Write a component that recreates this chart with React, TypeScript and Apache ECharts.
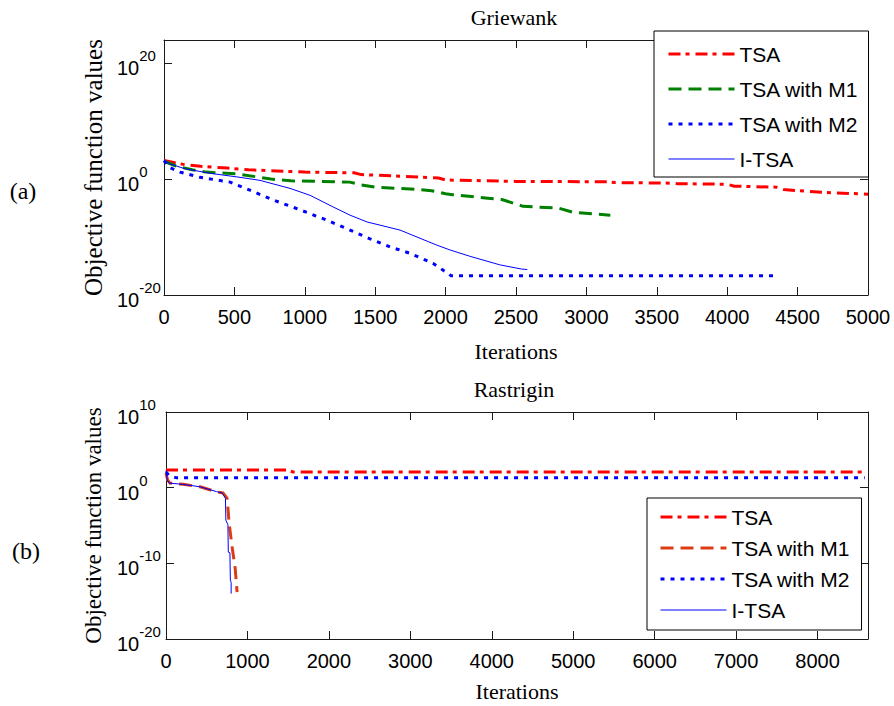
import React, { useEffect, useRef } from "react";
import * as echarts from "echarts";

// ---------- data ----------
const legendNames = ["TSA", "TSA with M1", "TSA with M2", "I-TSA"];

// Griewank: [iteration, objective value]
const griewankTSA: [number, number][] = [
  [0, 1.6e3], [60, 8e2], [150, 3e2], [260, 1.6e2], [450, 8e1], [600, 4e1], [800, 2.5e1],
  [1000, 1.6e1], [1350, 1.2e1], [1400, 6], [1700, 3], [1950, 1.5], [2000, 7e-1],
  [2500, 4e-1], [3150, 3.5e-1], [3200, 2.5e-1], [3600, 2e-1], [3650, 1.6e-1], [4000, 1.3e-1],
  [4050, 6e-2], [4350, 4e-2], [4400, 1.6e-2], [4500, 1e-2], [4700, 5e-3], [5000, 2.5e-3],
];
const griewankM1: [number, number][] = [
  [0, 1.2e3], [80, 2e2], [200, 4e1], [300, 1.6e1], [520, 8], [680, 2], [760, 1], [900, 5e-1],
  [1320, 3e-1], [1400, 1e-1], [1500, 4e-2], [1750, 2e-2], [1900, 1e-2], [2000, 3e-3],
  [2050, 2e-3], [2300, 5e-4], [2400, 3e-4], [2550, 2e-5], [2800, 1e-5], [2900, 2e-6], [3170, 6e-7],
];
const griewankM2: [number, number][] = [
  [0, 1.6e3], [40, 1e2], [114, 1.6e1], [256, 2], [470, 3e-1], [610, 1.2e-2], [776, 2.5e-4],
  [966, 5e-6], [1158, 8e-8], [1321, 1.6e-9], [1463, 5e-11], [1605, 2e-12], [1747, 1.6e-13],
  [1910, 3e-15], [1981, 2e-16], [2040, 2e-17], [4330, 2e-17],
];
const griewankITSA: [number, number][] = [
  [0, 1.6e3], [43, 4e2], [150, 6e1], [327, 1e1], [540, 2], [682, 6e-1], [895, 2.5e-2],
  [1037, 1.6e-3], [1200, 1.6e-5], [1321, 6e-7], [1442, 4e-8], [1676, 1.6e-9], [1938, 4e-12],
  [2031, 6e-13], [2170, 5e-14], [2385, 1.6e-15], [2540, 3e-16], [2580, 2.5e-16],
];

// Rastrigin: [iteration, objective value]
const rastriginTSA: [number, number][] = [
  [0, 2.2e2], [1480, 2.2e2], [1560, 1.2e2], [8580, 1.2e2],
];
const rastriginM1: [number, number][] = [
  [0, 8e1], [20, 1e1], [49, 4], [209, 2.8], [418, 1.3], [627, 2.7e-1], [700, 2e-1],
  [750, 4e-2], [763, 1e-3], [775, 2e-5], [811, 1.6e-8], [849, 2.5e-11], [873, 1.6e-14],
];
const rastriginM2: [number, number][] = [
  [0, 1.2e2], [40, 4e1], [130, 2e1], [8580, 2e1],
];
const rastriginITSA: [number, number][] = [
  [0, 2e2], [15, 1e1], [40, 4], [200, 2.8], [420, 1.3], [620, 3e-1], [690, 2e-1], [730, 4e-2],
  [735, 5e-5], [760, 1.3e-5], [765, 3e-9], [785, 2.5e-9], [790, 6e-13], [800, 3e-13], [800, 1e-14],
];

// axis ranges (exponents of 10) and tick steps
const griewankX = { min: 0, max: 5000, interval: 500 };
const griewankYExp = { min: -20, max: 24, interval: 20 };
const rastriginX = { min: 0, max: 8620, interval: 1000 };
const rastriginYExp = { min: -20, max: 10, interval: 10 };

// ---------- styles ----------
const sans = "'Liberation Sans', Arial, Helvetica, sans-serif";
const serif = "'Liberation Serif', 'Times New Roman', Times, serif";
const axisColor = "#1a1a1a";

const lineStyles: Record<string, any> = {
  TSA: { color: "#ff0000", width: 3, type: [12, 5, 4, 6] },
  M1: { color: "#008000", width: 3, type: [13, 7] },
  M1b: { color: "#dc3c14", width: 3, type: [13, 7] },
  M2: { color: "#0000ff", width: 3, type: [4, 6] },
  ITSA: { color: "#0000ff", width: 1, type: "solid" },
};

const toLog = (d: [number, number][]) => d.map(([x, v]) => [x, Math.log10(v)]);

function App() {
  const ref = useRef<HTMLDivElement>(null);
  useEffect(() => {
    if (!ref.current) return;
    const chart = echarts.init(ref.current, undefined, { renderer: "svg" });

    const axisLine = { show: true, onZero: false, lineStyle: { color: axisColor, width: 1 } };
    const axisTick = { show: true, inside: true, length: 8, lineStyle: { color: axisColor, width: 1 } };

    const xAxisMain = (grid: number, r: any, gap: number) => ({
      gridIndex: grid, type: "value", ...r, position: "bottom",
      axisLine, axisTick, splitLine: { show: false },
      axisLabel: {
        margin: 12, fontSize: 20, fontFamily: sans, color: "#000",
        showMaxLabel: r.max % r.interval === 0,
        formatter: (v: number) => String(v),
      },
      name: "Iterations", nameLocation: "middle", nameGap: gap,
      nameTextStyle: { fontFamily: serif, fontSize: 22, color: "#000" },
    });
    const xAxisTop = (grid: number, r: any) => ({
      gridIndex: grid, type: "value", ...r, position: "top",
      axisLine, axisTick, splitLine: { show: false }, axisLabel: { show: false },
    });
    const yAxisMain = (grid: number, r: any, margin: number, gap: number, nameSize: number) => ({
      gridIndex: grid, type: "value", ...r, position: "left",
      axisLine, axisTick, splitLine: { show: false },
      axisLabel: {
        margin, align: "left", showMaxLabel: r.max % r.interval === 0,
        formatter: (v: number) => `{b|10}{s|${Math.round(v)}}`,
        rich: {
          b: { fontSize: 20, fontFamily: sans, color: "#000", verticalAlign: "bottom", lineHeight: 30 },
          s: { fontSize: 15, fontFamily: sans, color: "#000", verticalAlign: "top", lineHeight: 30 },
        },
      },
      name: "Objective function values", nameLocation: "middle", nameGap: gap,
      nameTextStyle: { fontFamily: serif, fontSize: nameSize, color: "#000" },
    });
    const yAxisRight = (grid: number, r: any) => ({
      gridIndex: grid, type: "value", ...r, position: "right",
      axisLine, axisTick, splitLine: { show: false }, axisLabel: { show: false },
    });

    const mkSeries = (name: string, data: [number, number][], st: any, xi: number, yi: number, z: number) => ({
      type: "line", name, data: toLog(data), xAxisIndex: xi, yAxisIndex: yi, z,
      symbol: "none", showSymbol: false,
      lineStyle: { ...st, cap: "butt", join: "miter" },
      itemStyle: { color: st.color },
      emphasis: { disabled: true },
    });

    const legendItem = (name: string, st: any) => ({
      name,
      lineStyle: { color: st.color, width: st.width, type: st.type, cap: "butt" },
      itemStyle: { opacity: 0 },
    });

    const legendBase = {
      orient: "vertical", itemWidth: 66, itemHeight: 14,
      backgroundColor: "#fff", borderColor: "#000", borderWidth: 1, borderRadius: 0,
      selectedMode: false, z: 10,
      textStyle: { fontFamily: sans, fontSize: 21, color: "#000", lineHeight: 24 },
      itemStyle: { opacity: 0 },
    };

    chart.setOption({
      animation: false,
      backgroundColor: "#fff",
      grid: [
        { left: 164, top: 40, width: 704, height: 255 },
        { left: 166, top: 412, width: 702, height: 227 },
      ],
      xAxis: [
        xAxisMain(0, griewankX, 45.5),
        xAxisTop(0, griewankX),
        xAxisMain(1, rastriginX, 41.5),
        xAxisTop(1, rastriginX),
      ],
      yAxis: [
        yAxisMain(0, griewankYExp, 47, 56, 25),
        yAxisRight(0, griewankYExp),
        yAxisMain(1, rastriginYExp, 49, 61, 23),
        yAxisRight(1, rastriginYExp),
      ],
      legend: [
        {
          ...legendBase, left: 654, top: 31, itemGap: 11, padding: [11, 10, 6, 13],
          data: [
            legendItem(legendNames[0], lineStyles.TSA),
            legendItem(legendNames[1], lineStyles.M1),
            legendItem(legendNames[2], lineStyles.M2),
            legendItem(legendNames[3], lineStyles.ITSA),
          ],
        },
        {
          ...legendBase, left: 647, top: 498, itemGap: 7, padding: [7, 11, 8, 12],
          data: [
            legendItem(legendNames[0], lineStyles.TSA),
            legendItem(legendNames[1], lineStyles.M1b),
            legendItem(legendNames[2], lineStyles.M2),
            legendItem(legendNames[3], lineStyles.ITSA),
          ],
        },
      ],
      graphic: [
        { type: "text", x: 514, y: 17, style: { text: "Griewank", fontFamily: serif, fontSize: 22, fill: "#000", align: "center", verticalAlign: "middle" } },
        { type: "text", x: 514, y: 389, style: { text: "Rastrigin", fontFamily: serif, fontSize: 22, fill: "#000", align: "center", verticalAlign: "middle" } },
        { type: "text", x: 23, y: 191, style: { text: "(a)", fontFamily: serif, fontSize: 24, fill: "#000", align: "center", verticalAlign: "middle" } },
        { type: "text", x: 26, y: 551, style: { text: "(b)", fontFamily: serif, fontSize: 24, fill: "#000", align: "center", verticalAlign: "middle" } },
      ],
      series: [
        mkSeries(legendNames[0], griewankTSA, lineStyles.TSA, 0, 0, 2),
        mkSeries(legendNames[1], griewankM1, lineStyles.M1, 0, 0, 3),
        mkSeries(legendNames[2], griewankM2, lineStyles.M2, 0, 0, 4),
        mkSeries(legendNames[3], griewankITSA, lineStyles.ITSA, 0, 0, 5),
        mkSeries(legendNames[0], rastriginTSA, lineStyles.TSA, 2, 2, 2),
        mkSeries(legendNames[1], rastriginM1, lineStyles.M1b, 2, 2, 3),
        mkSeries(legendNames[2], rastriginM2, lineStyles.M2, 2, 2, 4),
        mkSeries(legendNames[3], rastriginITSA, lineStyles.ITSA, 2, 2, 5),
      ],
    });
    return () => chart.dispose();
  }, []);

  return (
    <div
      ref={ref}
      style={{ position: "fixed", left: 0, top: 0, width: 894, height: 706, background: "#fff" }}
    />
  );
}

export default App;
